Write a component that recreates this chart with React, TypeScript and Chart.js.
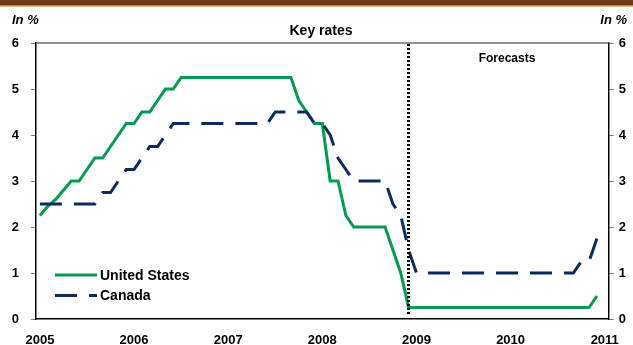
import React, { useEffect, useRef } from "react";
import { Chart, registerables } from "chart.js";

Chart.register(...registerables);

// ---- data ----
const YEAR_LABELS = ["2005", "2006", "2007", "2008", "2009", "2010", "2011"];
const MONTH_CODES = ["01", "02", "03", "04", "05", "06", "07", "08", "09", "10", "11", "12"];

// monthly categories Jan 2005 ... Dec 2010, plus Jan 2011 (axis end)
const CATEGORIES: string[] = [];
for (const y of YEAR_LABELS.slice(0, -1)) for (const m of MONTH_CODES) CATEGORIES.push(`${y}-${m}`);
CATEGORIES.push(`${YEAR_LABELS[YEAR_LABELS.length - 1]}-01`);

// United States key rate, in % (Jan 2005 - Dec 2010)
const US_RATES = [
  2.25, 2.45, 2.6, 2.8, 3.0, 3.0, 3.25, 3.5, 3.5, 3.75, 4.0, 4.25,
  4.25, 4.5, 4.5, 4.75, 5.0, 5.0, 5.25, 5.25, 5.25, 5.25, 5.25, 5.25,
  5.25, 5.25, 5.25, 5.25, 5.25, 5.25, 5.25, 5.25, 5.25, 4.75, 4.5, 4.25,
  4.25, 3.0, 3.0, 2.25, 2.0, 2.0, 2.0, 2.0, 2.0, 1.5, 1.0, 0.25,
  0.25, 0.25, 0.25, 0.25, 0.25, 0.25, 0.25, 0.25, 0.25, 0.25, 0.25, 0.25,
  0.25, 0.25, 0.25, 0.25, 0.25, 0.25, 0.25, 0.25, 0.25, 0.25, 0.25, 0.5,
];

// Canada key rate, in % (Jan 2005 - Dec 2010)
const CANADA_RATES = [
  2.5, 2.5, 2.5, 2.5, 2.5, 2.5, 2.5, 2.5, 2.75, 2.75, 3.0, 3.25,
  3.25, 3.5, 3.75, 3.75, 4.0, 4.25, 4.25, 4.25, 4.25, 4.25, 4.25, 4.25,
  4.25, 4.25, 4.25, 4.25, 4.25, 4.25, 4.5, 4.5, 4.5, 4.5, 4.5, 4.25,
  4.25, 4.0, 3.5, 3.25, 3.0, 3.0, 3.0, 3.0, 3.0, 2.5, 2.25, 1.5,
  1.0, 1.0, 1.0, 1.0, 1.0, 1.0, 1.0, 1.0, 1.0, 1.0, 1.0, 1.0,
  1.0, 1.0, 1.0, 1.0, 1.0, 1.0, 1.0, 1.0, 1.0, 1.25, 1.25, 1.75,
];

const Y_TICKS = [0, 1, 2, 3, 4, 5, 6];
const FORECAST_START = "2008-12";

const TITLE = "Key rates";
const UNIT_LABEL = "In %";
const FORECAST_LABEL = "Forecasts";

// ---- style ----
const GREEN = "#009a50";
const NAVY = "#0c2b5c";
const FONT = "'Liberation Sans', Arial, Helvetica, sans-serif";

const decorPlugin = {
  id: "decor",
  beforeDraw(chart: any) {
    const { ctx, width, height } = chart;
    ctx.save();
    ctx.fillStyle = "#ffffff";
    ctx.fillRect(0, 0, width, height);
    ctx.fillStyle = "#6b3a12";
    ctx.fillRect(0, 0, width, 5);
    ctx.fillStyle = "#c8802a";
    ctx.fillRect(0, 5, width, 1.5);
    ctx.restore();
  },
  afterDatasetsDraw(chart: any) {
    const { ctx, chartArea } = chart;
    const xs = chart.scales.x;
    ctx.save();
    // top border of plot
    ctx.strokeStyle = "#707070";
    ctx.lineWidth = 1.5;
    ctx.beginPath();
    ctx.moveTo(chartArea.left, chartArea.top);
    ctx.lineTo(chartArea.right, chartArea.top);
    ctx.stroke();
    // forecast divider
    const fx = Math.round(xs.getPixelForValue(CATEGORIES.indexOf(FORECAST_START))) - 0.5;
    ctx.strokeStyle = "#000000";
    ctx.lineWidth = 3;
    ctx.lineCap = "butt";
    ctx.setLineDash([2, 2]);
    ctx.beginPath();
    ctx.moveTo(fx, chartArea.top + 1);
    ctx.lineTo(fx, chartArea.bottom - 3);
    ctx.stroke();
    ctx.restore();
  },
  afterDraw(chart: any) {
    const { ctx, chartArea } = chart;
    ctx.save();
    ctx.fillStyle = "#000000";
    ctx.textBaseline = "middle";
    // title
    ctx.font = `bold 14px ${FONT}`;
    ctx.textAlign = "center";
    ctx.fillText(TITLE, 321, 31);
    // unit labels
    ctx.font = `italic bold 13px ${FONT}`;
    ctx.textAlign = "left";
    ctx.fillText(UNIT_LABEL, 12, 20);
    ctx.textAlign = "right";
    ctx.fillText(UNIT_LABEL, 627, 20);
    // forecasts
    ctx.font = `bold 12px ${FONT}`;
    ctx.textAlign = "center";
    ctx.fillText(FORECAST_LABEL, 507, 59);
    // legend
    const x0 = chartArea.left + 19;
    const x1 = x0 + 42;
    chart.data.datasets.forEach((ds: any, i: number) => {
      const y = 275 + i * 20.5;
      ctx.strokeStyle = ds.borderColor;
      ctx.lineWidth = ds.borderWidth;
      ctx.setLineDash(ds.borderDash || []);
      ctx.beginPath();
      ctx.moveTo(x0, y);
      ctx.lineTo(x1, y);
      ctx.stroke();
      ctx.setLineDash([]);
      ctx.font = `bold 14px ${FONT}`;
      ctx.textAlign = "left";
      ctx.fillStyle = "#000000";
      ctx.fillText(ds.label, x1 + 3, y + 1);
    });
    ctx.restore();
  },
};

const yAxis = (position: "left" | "right", width: number, padding: number) => ({
  type: "linear" as const,
  position,
  min: 0,
  max: 6,
  afterBuildTicks: (s: any) => {
    s.ticks = Y_TICKS.map((v) => ({ value: v }));
  },
  afterFit: (s: any) => {
    s.width = width;
  },
  grid: {
    display: true,
    drawOnChartArea: false,
    drawTicks: true,
    tickLength: 5,
    color: "#777777",
    lineWidth: 1,
  },
  border: { display: true, color: "#000000", width: 1.5 },
  ticks: {
    padding,
    color: "#000000",
    font: { family: FONT, size: 13, weight: "bold" as const },
  },
});

export default function App() {
  const ref = useRef<HTMLCanvasElement | null>(null);
  useEffect(() => {
    document.body.style.margin = "0";
    if (!ref.current) return;
    const chart = new Chart(ref.current, {
      type: "line",
      data: {
        labels: CATEGORIES,
        datasets: [
          {
            label: "United States",
            data: US_RATES,
            borderColor: GREEN,
            borderWidth: 3,
            pointRadius: 0,
            tension: 0,
            order: 1,
            yAxisID: "y",
          },
          {
            label: "Canada",
            data: CANADA_RATES,
            borderColor: NAVY,
            borderWidth: 3,
            borderDash: [22, 12],
            pointRadius: 0,
            tension: 0,
            order: 0,
            yAxisID: "y",
          },
        ],
      },
      options: {
        animation: false,
        responsive: false,
        events: [],
        layout: { padding: { top: 43, left: 0, right: 0, bottom: 0 } },
        plugins: {
          legend: { display: false },
          tooltip: { enabled: false },
          title: { display: false },
        },
        scales: {
          x: {
            type: "category",
            offset: true,
            afterFit: (s: any) => {
              s.height = 26;
            },
            grid: { display: false, drawTicks: false },
            border: { display: true, color: "#000000", width: 1.5 },
            ticks: {
              autoSkip: false,
              maxRotation: 0,
              minRotation: 0,
              padding: 14,
              color: "#000000",
              font: { family: FONT, size: 13, weight: "bold" },
              callback: (_v: any, i: number) =>
                CATEGORIES[i].endsWith("-01") ? CATEGORIES[i].slice(0, 4) : "",
            },
          },
          y: yAxis("left", 36, 12),
          y1: yAxis("right", 24, 5),
        },
      } as any,
      plugins: [decorPlugin],
    });
    return () => chart.destroy();
  }, []);
  return (
    <div style={{ width: 633, height: 345, position: "relative" }}>
      <canvas ref={ref} width={633} height={345} style={{ display: "block" }} />
    </div>
  );
}
